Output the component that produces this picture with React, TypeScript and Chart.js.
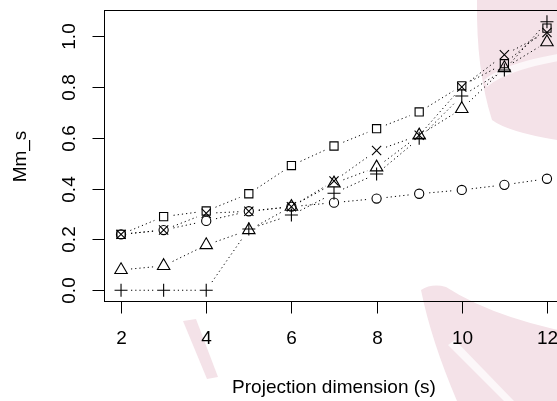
import React, { useEffect, useRef } from "react";
import { Chart, registerables } from "chart.js";

Chart.register(...registerables);

// ---- data ----
const dims = [2, 3, 4, 5, 6, 7, 8, 9, 10, 11, 12];
const squareVals = [0.22, 0.29, 0.312, 0.38, 0.491, 0.568, 0.636, 0.702, 0.805, 0.892, 1.032];
const circleVals = [0.22, 0.237, 0.273, 0.311, 0.329, 0.345, 0.361, 0.38, 0.395, 0.415, 0.439];
const triangleVals = [0.08, 0.096, 0.178, 0.237, 0.329, 0.421, 0.484, 0.61, 0.714, 0.875, 0.977];
const plusVals = [0, 0, 0, 0.241, 0.296, 0.382, 0.458, 0.598, 0.765, 0.867, 1.057];
const crossVals = [0.22, 0.237, 0.303, 0.311, 0.329, 0.43, 0.55, 0.61, 0.8, 0.927, 1.015];

const xTicks = [2, 4, 6, 8, 10, 12];
const yTicks = [0, 0.2, 0.4, 0.6, 0.8, 1.0];
const xTitle = "Projection dimension (s)";
const yTitle = "Mm_s";

const FONT = '19px "Liberation Sans", Arial, Helvetica, sans-serif';

const watermarkPlugin = {
  id: "watermark",
  beforeDraw(chart: any) {
    const ctx = chart.ctx;
    ctx.save();
    ctx.fillStyle = "#ffffff";
    ctx.fillRect(0, 0, chart.width, chart.height);
    ctx.fillStyle = "#f4e2e8";
    // top-right
    ctx.beginPath();
    ctx.moveTo(477, 0);
    ctx.lineTo(600, 0);
    ctx.lineTo(600, 142);
    ctx.lineTo(557, 140);
    ctx.quadraticCurveTo(508, 132, 492, 120);
    ctx.quadraticCurveTo(476, 70, 477, 0);
    ctx.fill();
    // bottom strip
    ctx.beginPath();
    ctx.moveTo(183, 321);
    ctx.lineTo(196, 319);
    ctx.lineTo(218, 377);
    ctx.lineTo(207, 379);
    ctx.closePath();
    ctx.fill();
    // bottom right
    ctx.beginPath();
    ctx.moveTo(421, 290);
    ctx.quadraticCurveTo(432, 283, 446, 287);
    ctx.quadraticCurveTo(500, 322, 600, 338);
    ctx.lineTo(600, 401);
    ctx.lineTo(457, 401);
    ctx.quadraticCurveTo(431, 340, 421, 290);
    ctx.fill();
    ctx.fillStyle = "#fcf7f9";
    ctx.beginPath();
    ctx.moveTo(484, 80);
    ctx.quadraticCurveTo(510, 58, 600, 48);
    ctx.lineTo(600, 55);
    ctx.quadraticCurveTo(512, 65, 487, 87);
    ctx.closePath();
    ctx.fill();
    ctx.beginPath();
    ctx.moveTo(448, 345);
    ctx.lineTo(455, 340);
    ctx.lineTo(514, 401);
    ctx.lineTo(504, 401);
    ctx.closePath();
    ctx.fill();
    ctx.restore();
  },
};

const gapLinesPlugin = {
  id: "gapLines",
  beforeDatasetsDraw(chart: any) {
    const ctx = chart.ctx;
    const gap = 10;
    ctx.save();
    ctx.strokeStyle = "#000";
    ctx.lineWidth = 1;
    ctx.setLineDash([1.2, 3]);
    chart.data.datasets.forEach((_: any, di: number) => {
      const meta = chart.getDatasetMeta(di);
      const pts = meta.data;
      for (let i = 1; i < pts.length; i++) {
        const p0 = pts[i - 1];
        const p1 = pts[i];
        const dx = p1.x - p0.x;
        const dy = p1.y - p0.y;
        const len = Math.hypot(dx, dy);
        if (len <= 2 * gap) continue;
        const ux = dx / len;
        const uy = dy / len;
        ctx.beginPath();
        ctx.moveTo(p0.x + ux * gap, p0.y + uy * gap);
        ctx.lineTo(p1.x - ux * gap, p1.y - uy * gap);
        ctx.stroke();
      }
    });
    ctx.restore();
  },
};

const axesPlugin = {
  id: "rAxes",
  afterDraw(chart: any) {
    const ctx = chart.ctx;
    const a = chart.chartArea;
    const xs = chart.scales.x;
    const ys = chart.scales.y;
    ctx.save();
    ctx.strokeStyle = "#000";
    ctx.fillStyle = "#000";
    ctx.lineWidth = 1;
    ctx.setLineDash([]);
    const L = Math.round(a.left) + 0.5;
    const B = Math.round(a.bottom) + 0.5;
    const T = Math.round(a.top) + 0.5;
    const R = Math.round(a.right) + 0.5;
    ctx.strokeRect(L, T, R - L, B - T);
    ctx.font = FONT;
    // x axis
    ctx.textAlign = "center";
    ctx.textBaseline = "alphabetic";
    xTicks.forEach((v) => {
      const px = Math.round(xs.getPixelForValue(v)) + 0.5;
      ctx.beginPath();
      ctx.moveTo(px, B);
      ctx.lineTo(px, B + 12);
      ctx.stroke();
      ctx.fillText(String(v), px, a.bottom + 43);
    });
    ctx.fillText(xTitle, (a.left + a.right) / 2, a.bottom + 91.5);
    // y axis
    yTicks.forEach((v) => {
      const py = Math.round(ys.getPixelForValue(v)) + 0.5;
      ctx.beginPath();
      ctx.moveTo(L - 12, py);
      ctx.lineTo(L, py);
      ctx.stroke();
      ctx.save();
      ctx.translate(a.left - 29, py);
      ctx.rotate(-Math.PI / 2);
      ctx.fillText(v.toFixed(1), 0, 0);
      ctx.restore();
    });
    ctx.save();
    ctx.translate(a.left - 78, (a.top + a.bottom) / 2 + 1);
    ctx.rotate(-Math.PI / 2);
    ctx.fillText(yTitle, 0, 0);
    ctx.restore();
    ctx.restore();
  },
};

function series(vals: number[], style: string, radius: number) {
  return {
    data: dims.map((d, i) => ({ x: d, y: vals[i] })),
    showLine: false,
    pointStyle: style,
    pointRadius: radius,
    pointHoverRadius: radius,
    pointBorderWidth: 1.1,
    pointBorderColor: "#000",
    pointBackgroundColor: "rgba(0,0,0,0)",
    borderColor: "#000",
  };
}

export default function App() {
  const ref = useRef<HTMLCanvasElement | null>(null);
  useEffect(() => {
    if (!ref.current) return;
    const chart = new Chart(ref.current, {
      type: "line",
      data: {
        datasets: [
          series(squareVals, "rect", 5.8),
          series(circleVals, "circle", 4.6),
          series(triangleVals, "triangle", 7.2),
          series(plusVals, "cross", 6.5),
          series(crossVals, "crossRot", 6.5),
        ] as any,
      },
      options: {
        responsive: false,
        animation: false,
        devicePixelRatio: 1,
        events: [],
        layout: { padding: { left: 104, top: 10, right: 36, bottom: 100 } },
        plugins: { legend: { display: false }, tooltip: { enabled: false } },
        scales: {
          x: { type: "linear", min: 1.6, max: 12.4, display: false },
          y: { type: "linear", min: -0.0423, max: 1.1034, display: false },
        },
      },
      plugins: [watermarkPlugin, gapLinesPlugin, axesPlugin],
    });
    return () => chart.destroy();
  }, []);
  return (
    <div
      style={{
        position: "absolute",
        left: 0,
        top: 0,
        width: 557,
        height: 401,
        overflow: "hidden",
        background: "#fff",
      }}
    >
      <canvas ref={ref} width={600} height={401} style={{ display: "block" }} />
    </div>
  );
}
